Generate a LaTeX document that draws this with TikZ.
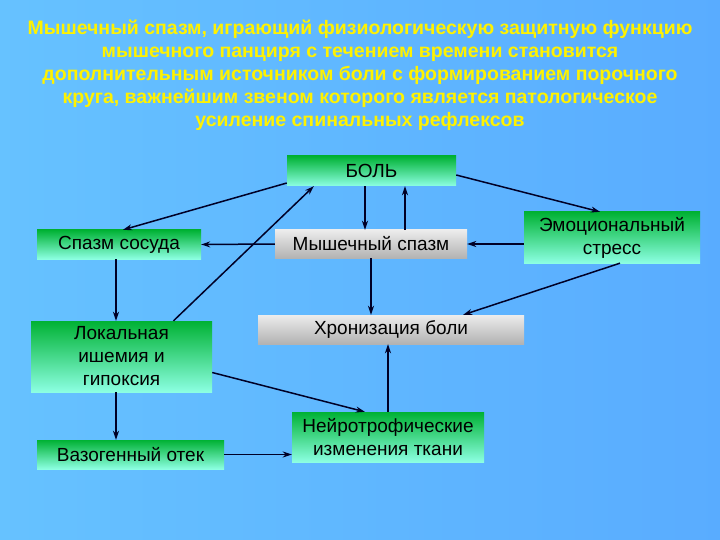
\documentclass[tikz,border=0pt]{standalone}
\usepackage{fontspec}
\setmainfont{Liberation Sans}
\usetikzlibrary{arrows.meta,calc}
\begin{document}
\begin{tikzpicture}[x=1pt,y=-1pt,
  gbox/.style={draw=none,top color=green!55!teal!90!black,bottom color=green!25!cyan!45!white,inner sep=0pt,align=center,font=\fontsize{19}{23}\selectfont,text=black},
  sbox/.style={draw=none,top color=white!85!gray,bottom color=gray!60,inner sep=0pt,align=center,font=\fontsize{19}{23}\selectfont,text=black},
  arr/.style={-{Stealth[length=9pt,width=6pt]},line width=1.5pt,draw=black!85!blue}]
\shade[left color=blue!40!cyan!60!white,middle color=blue!75!black,right color=blue!50!cyan!65!white] (0,0) rectangle (720,540);
\useasboundingbox (0,0) rectangle (720,540);
\node[text=yellow,font=\bfseries\fontsize{19.5}{23}\selectfont,align=center] (title) at (360,75)
{Мышечный спазм, играющий физиологическую защитную функцию\\мышечного панциря с течением времени становится\\дополнительным источником боли с формированием порочного\\круга, важнейшим звеном которого является патологическое\\усиление спинальных рефлексов};
\node[gbox,minimum width=169pt,minimum height=30pt] (bol) at (371.5,171) {БОЛЬ};
\node[gbox,minimum width=164pt,minimum height=29pt] (ss) at (119,244.5) {Спазм сосуда};
\node[sbox,minimum width=192pt,minimum height=28pt] (ms) at (371,244) {Мышечный спазм};
\node[gbox,minimum width=176pt,minimum height=51pt] (es) at (612,237.5) {Эмоциональный\\стресс};
\node[sbox,minimum width=266pt,minimum height=29pt] (hr) at (391,329.5) {Хронизация боли};
\node[gbox,minimum width=181pt,minimum height=71pt] (li) at (121.5,356.5) {Локальная\\ишемия и\\гипоксия};
\node[gbox,minimum width=192pt,minimum height=50pt] (nt) at (388,437) {Нейротрофические\\изменения ткани};
\node[gbox,minimum width=187pt,minimum height=29pt] (vo) at (130.5,454.5) {Вазогенный отек};
\draw[arr] ($(bol.west)+(0,12)$) -- ($(ss.north)+(4,0)$);
\draw[arr] ($(li.north)+(52,0)$) -- ($(bol.south west)+(27,0)$);
\draw[arr] (bol.south -| 365,0) -- (ms.north -| 365,0);
\draw[arr] (ms.north -| 405,0) -- (bol.south -| 405,0);
\draw[arr] ($(bol.east)+(0,4)$) -- ($(es.north)+(-12,0)$);
\draw[arr] (ms.west) -- (ss.east);
\draw[arr] (es.west |- ms.east) -- (ms.east);
\draw[arr] (ms.south) -- (hr.north -| ms.south);
\draw[arr] ($(es.south)+(8,0)$) -- ($(hr.north east)+(-61,0)$);
\draw[arr] (nt.north) -- (hr.south -| nt.north);
\draw[arr] (ss.south -| 116,0) -- (li.north -| 116,0);
\draw[arr] (li.south -| 116,0) -- (vo.north -| 116,0);
\draw[arr] ($(li.east)+(0,16)$) -- ($(nt.north west)+(73,0)$);
\draw[arr] (vo.east) -- (nt.west |- vo.east);
\end{tikzpicture}
\end{document}
